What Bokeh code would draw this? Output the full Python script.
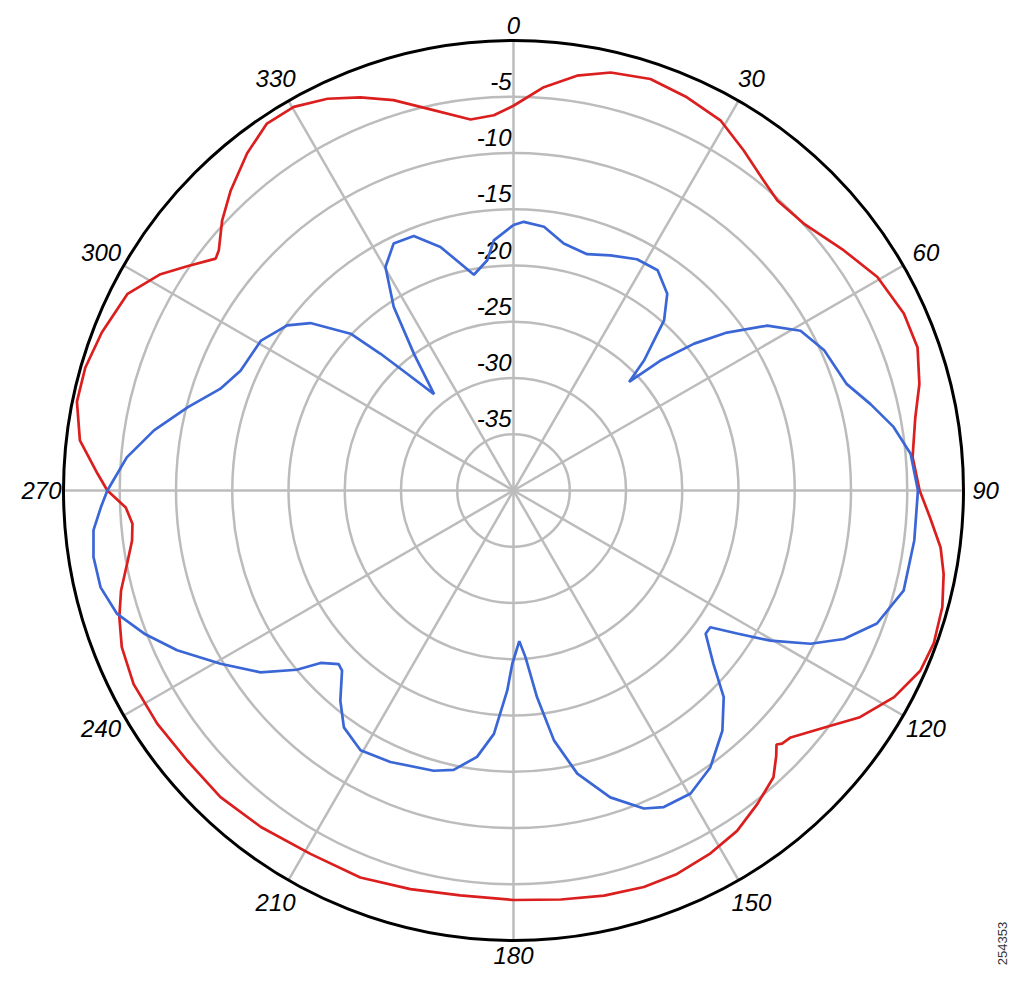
import numpy as np
from bokeh.plotting import figure
from bokeh.models import Range1d
from bokeh.core.properties import value
from bokeh.embed import file_html
from bokeh.resources import INLINE

# ---------------- data ----------------
angle_ticks = [0, 30, 60, 90, 120, 150, 180, 210, 240, 270, 300, 330]
angle_labels = [str(a) for a in angle_ticks]
ring_db = [-35, -30, -25, -20, -15, -10, -5]
ring_labels = [str(d) for d in ring_db]
db_min, db_max = -40, 0
chart_id = "254353"

red_angle = [0, 4.3, 8.7, 13.1, 18.4, 23.8, 29.2, 34.1, 38.9, 42.3, 47.4, 54.0,
             59.6, 65.6, 70.5, 75.3, 79.7, 85.2, 90, 93.7, 97.6, 101.0, 105.2,
             110.0, 113.9, 118.5, 123.2, 127.0, 131.7, 133.3, 134.0, 135.3, 137.8,
             142.1, 146.7, 151.5, 156.9, 161.8, 167.4, 173.4, 180, 187.5, 194.5,
             201.6, 209.2, 216.9, 223.7, 230.4, 236.8, 243.0, 248.2, 252.2, 255.7,
             259.3, 262.5, 265.0, 267.5, 270, 272.3, 276.6, 281.5, 286.0, 291.0,
             297.0, 301.5, 304.5, 307.9, 309.2, 312.8, 316.7, 321.7, 326.1, 330.2,
             334.6, 338.7, 342.9, 347.3, 353.4, 357.0, 360]
red_db = [-5.8, -4.05, -2.7, -1.85, -1.45, -1.8, -2.3, -3.5, -4.6, -5.15, -4.95, -3.7,
          -2.5, -1.9, -1.9, -2.7, -3.7, -4.4, -3.9, -2.9, -1.7, -1.05, -0.5,
          -0.25, -0.45, -1.5, -3.2, -5.1, -7.0, -7.2, -7.5, -6.8, -5.6,
          -4.7, -3.8, -3.3, -2.95, -2.9, -3.1, -3.4, -3.6, -3.7, -3.4,
          -3.0, -3.0, -2.6, -2.3, -2.35, -2.15, -2.1, -2.5, -3.2, -4.0,
          -5.05, -5.8, -6.0, -5.5, -3.9, -3.0, -1.2, -0.4, -0.4, -0.8,
          -1.5, -3.2, -4.8, -6.45, -6.2, -4.7, -3.35, -1.8, -0.7, -0.7,
          -1.45, -2.5, -3.7, -5.2, -6.8, -6.6, -5.8]

blue_angle = [0, 2.2, 6.6, 11.5, 17.3, 22.4, 28.1, 33.2, 38.0, 41.5, 43.1, 45.1,
              46.8, 48.5, 50.9, 53.5, 57.0, 60.9, 65.7, 72.3, 76.4, 80.5, 84.7,
              90, 97.1, 104.4, 110.1, 114.2, 117.3, 120.3, 122.6, 124.8, 126.7,
              130.9, 134.5, 139.0, 144.6, 149.7, 154.6, 157.7, 162.5, 167.3, 170.8,
              173.5, 175.9, 177.8, 180.4, 181.8, 184.6, 187.8, 192.1, 195.9, 204.4,
              210.5, 215.6, 219.5, 223.6, 225.2, 228.2, 230.4, 234.3, 239.4, 244.6,
              248.8, 252.7, 256.8, 261.0, 264.6, 267.7, 270, 274.9, 279.5, 284.3,
              289.1, 293.7, 300.7, 306.1, 309.5, 313.9, 315.8, 317.7, 320.5, 323.9,
              326.9, 330.2, 334.1, 338.6, 343.3, 349.6, 353.5, 355.5, 360]
blue_db = [-16.4, -16.1, -16.4, -17.6, -18.0, -17.4, -16.7, -16.6, -17.8, -19.8, -21.7, -23.6,
           -25.9, -22.6, -19.3, -16.4, -13.1, -10.8, -9.7, -8.9, -7.35, -5.75, -4.55,
           -4.05, -4.1, -4.2, -5.6, -7.8, -10.3, -13.55, -16.4, -18.7, -18.7,
           -16.5, -13.8, -11.7, -9.8, -8.8, -8.85, -9.45, -11.4, -14.2, -17.5,
           -21.5, -25.15, -26.6, -24.6, -22.2, -18.3, -16.1, -14.6, -14.1, -13.5,
           -13.2, -14.1, -15.8, -17.9, -18.1, -17.0, -15.0, -12.3, -9.75, -6.9,
           -4.8, -3.1, -2.3, -2.2, -2.5, -3.3, -3.9, -5.5, -7.6, -10.1,
           -12.4, -13.5, -13.9, -15.1, -16.6, -19.9, -23.05, -26.0, -28.9, -25.0,
           -20.5, -17.1, -15.6, -15.7, -17.4, -20.5, -19.4, -17.7, -16.4]

# ---------------- geometry ----------------
W, H = 1011, 969
CX, CY = 513, 490          # polar centre, px from figure top-left
S = 11.25                  # px per dB
R = (db_max - db_min) * S  # outer radius


def to_xy(ang_deg, db):
    r = (np.asarray(db, dtype=float) - db_min) * S
    t = np.radians(np.asarray(ang_deg, dtype=float))
    return r * np.sin(t), r * np.cos(t)


p = figure(width=W, height=H,
           x_range=Range1d(-CX, W - CX), y_range=Range1d(-(H - CY), CY),
           output_backend="svg", toolbar_location=None,
           x_axis_type=None, y_axis_type=None, min_border=0,
           outline_line_color=None, background_fill_color="white",
           border_fill_color="white")
p.xgrid.visible = False
p.ygrid.visible = False

GRID = "#bcbcbc"

# rings
p.circle(x=[0] * len(ring_db), y=[0] * len(ring_db),
         radius=[(d - db_min) * S for d in ring_db],
         fill_color=None, line_color=GRID, line_width=2.5)

# spokes
ta = np.radians(angle_ticks)
p.segment(x0=[0] * len(ta), y0=[0] * len(ta),
          x1=list(R * np.sin(ta)), y1=list(R * np.cos(ta)),
          line_color=GRID, line_width=2.5)

# ring labels
p.text(x=[-2] * len(ring_db), y=[(d - db_min) * S + 15.5 for d in ring_db],
       text=ring_labels, text_font=value("Liberation Sans"),
       text_font_style="italic", text_font_size="24px",
       text_align="right", text_baseline="middle", text_color="black")

# curves
rx, ry = to_xy(red_angle, red_db)
p.line(rx, ry, line_color="#db1f1f", line_width=2.7)
bx, by = to_xy(blue_angle, blue_db)
p.line(bx, by, line_color="#3a66d6", line_width=2.7)

# outer circle
p.circle(x=[0], y=[0], radius=[R], fill_color=None, line_color="black", line_width=3)

# angle labels
s2 = np.abs(np.sin(2 * ta))
lr = 465 + 12 * s2 + 7 * np.abs(np.sin(ta)) * (1 - s2)
p.text(x=list(lr * np.sin(ta)), y=list(lr * np.cos(ta)), text=angle_labels,
       text_font=value("Liberation Sans"), text_font_style="italic",
       text_font_size="24px", text_align="center", text_baseline="middle",
       text_color="black")

# id tag
p.text(x=[W - CX - 9], y=[CY - 943], text=[chart_id], angle=np.pi / 2,
       text_font=value("Liberation Sans"), text_font_size="13px",
       text_align="center", text_baseline="middle", text_color="#333333")

open("out.html", "w").write(file_html(p, INLINE))
